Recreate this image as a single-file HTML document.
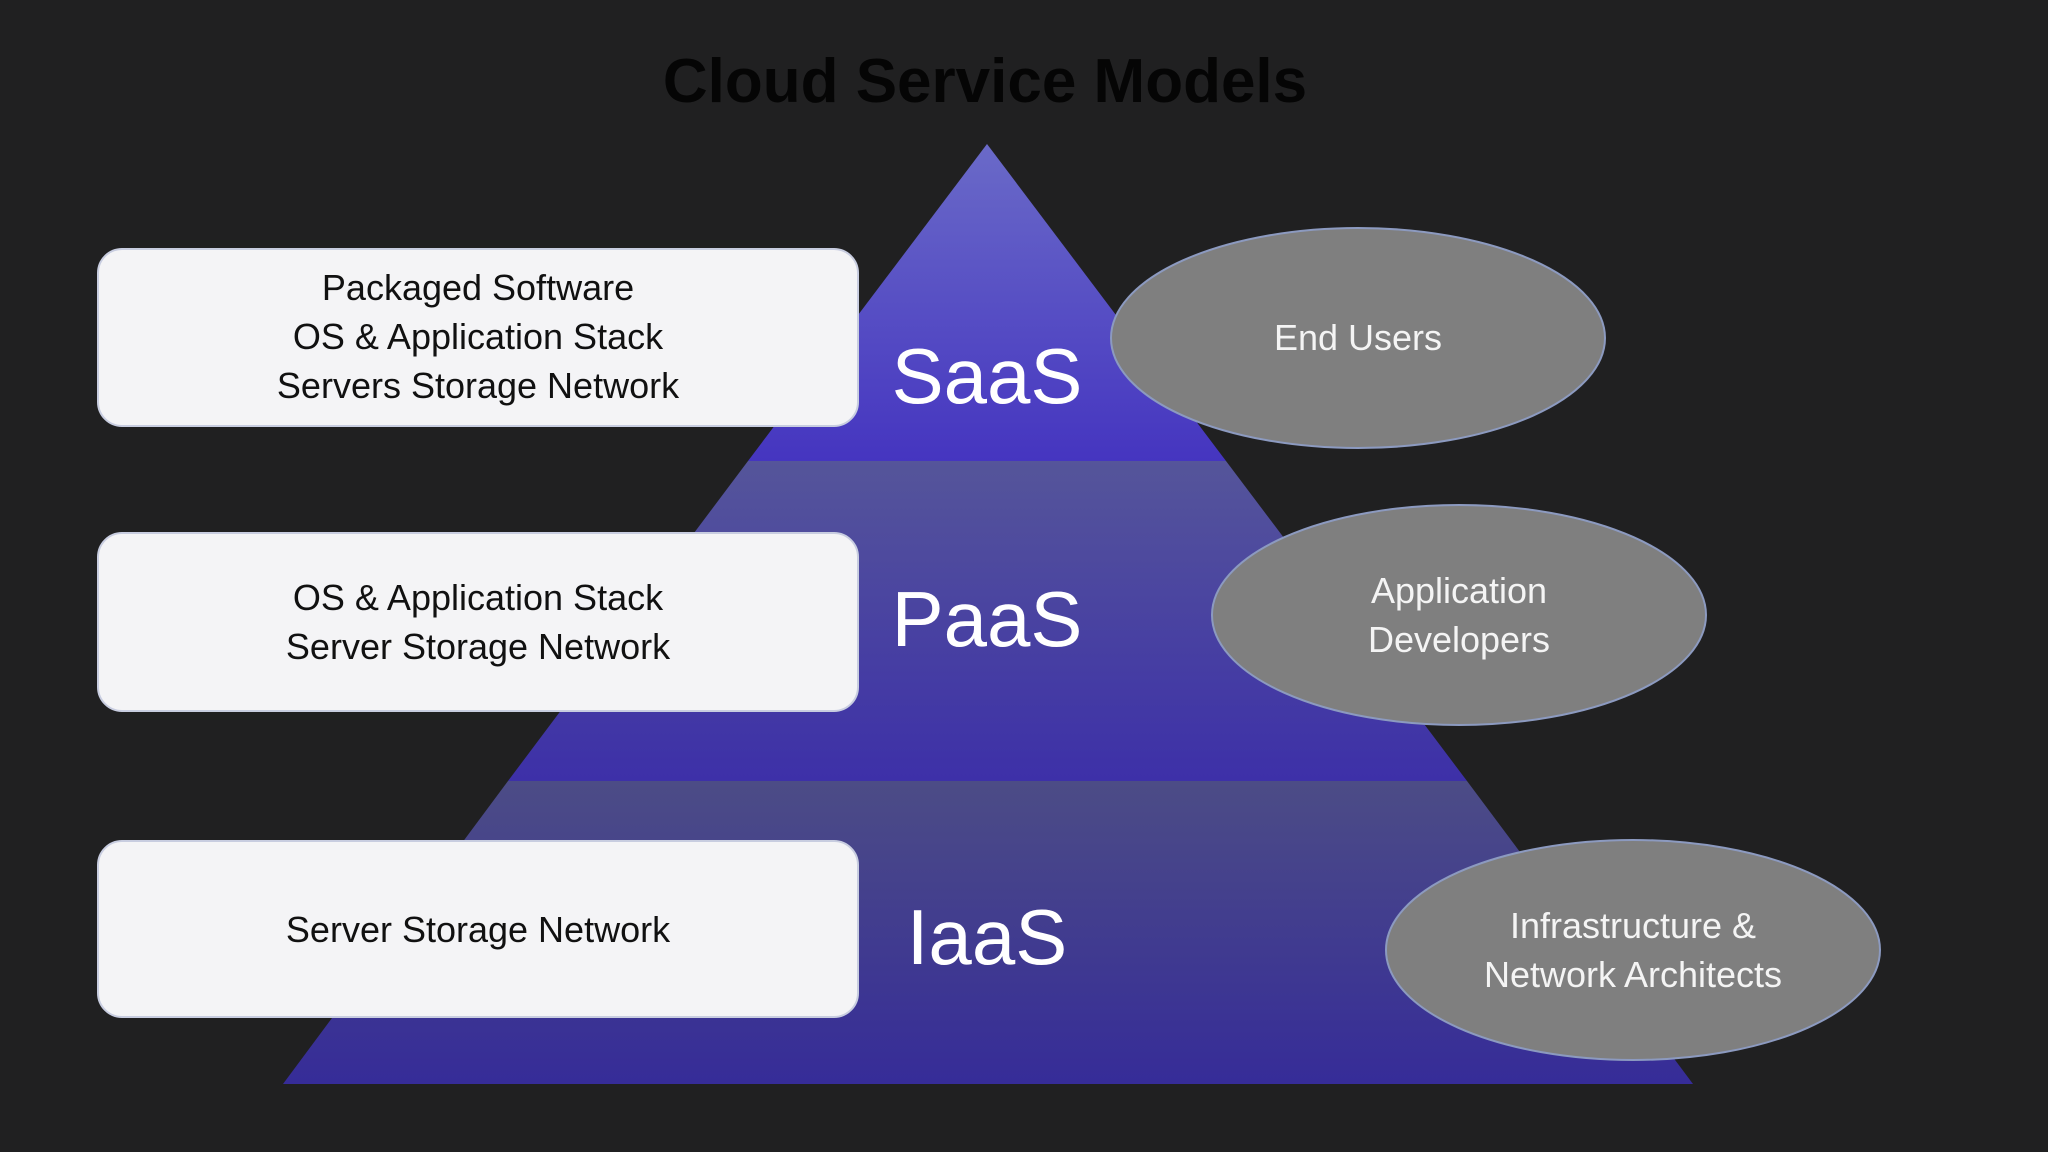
<!DOCTYPE html>
<html><head><meta charset="utf-8"><style>
html,body{margin:0;padding:0;background:#202021;}
body{width:2048px;height:1152px;overflow:hidden;position:relative;font-family:"Liberation Sans",sans-serif;}
</style></head><body>
<svg width="2048" height="1152" viewBox="0 0 2048 1152" xmlns="http://www.w3.org/2000/svg" style="position:absolute;left:0;top:0">
<defs>
<linearGradient id="g1" x1="0" y1="0" x2="0" y2="1"><stop offset="0" stop-color="#6a6ac8"/><stop offset="1" stop-color="#4535c0"/></linearGradient>
<linearGradient id="g2" x1="0" y1="0" x2="0" y2="1"><stop offset="0" stop-color="#55559a"/><stop offset="1" stop-color="#3d30a8"/></linearGradient>
<linearGradient id="g3" x1="0" y1="0" x2="0" y2="1"><stop offset="0" stop-color="#4c4c86"/><stop offset="1" stop-color="#362c98"/></linearGradient>
</defs>
<text x="985" y="102" text-anchor="middle" font-family="Liberation Sans, sans-serif" font-weight="bold" font-size="62" fill="#050505">Cloud Service Models</text>
<polygon points="987,144 1226,461 748,461" fill="url(#g1)"/>
<polygon points="748,461 1226,461 1467,781 508,781" fill="url(#g2)"/>
<polygon points="508,781 1467,781 1693,1084 283,1084" fill="url(#g3)"/>
<g fill="#f4f4f6" stroke="#c8cde0" stroke-width="2">
<rect x="98" y="249" width="760" height="177" rx="24"/>
<rect x="98" y="533" width="760" height="178" rx="24"/>
<rect x="98" y="841" width="760" height="176" rx="24"/>
</g>
<g font-family="Liberation Sans, sans-serif" font-size="36" fill="#111" text-anchor="middle">
<text x="478" y="300">Packaged Software</text>
<text x="478" y="349">OS &amp; Application Stack</text>
<text x="478" y="398">Servers Storage Network</text>
<text x="478" y="610">OS &amp; Application Stack</text>
<text x="478" y="659">Server Storage Network</text>
<text x="478" y="942">Server Storage Network</text>
</g>
<g font-family="Liberation Sans, sans-serif" font-size="78" fill="#fff" text-anchor="middle">
<text x="987" y="403">SaaS</text>
<text x="987" y="646">PaaS</text>
<text x="987" y="964">IaaS</text>
</g>
<g fill="#7f7f7f" stroke="#8c9ac0" stroke-width="2">
<ellipse cx="1358" cy="338" rx="247" ry="110"/>
<ellipse cx="1459" cy="615" rx="247" ry="110"/>
<ellipse cx="1633" cy="950" rx="247" ry="110"/>
</g>
<g font-family="Liberation Sans, sans-serif" font-size="36" fill="#f4f4f4" text-anchor="middle">
<text x="1358" y="350">End Users</text>
<text x="1459" y="603">Application</text>
<text x="1459" y="652">Developers</text>
<text x="1633" y="938">Infrastructure &amp;</text>
<text x="1633" y="987">Network Architects</text>
</g>
</svg>
</body></html>
